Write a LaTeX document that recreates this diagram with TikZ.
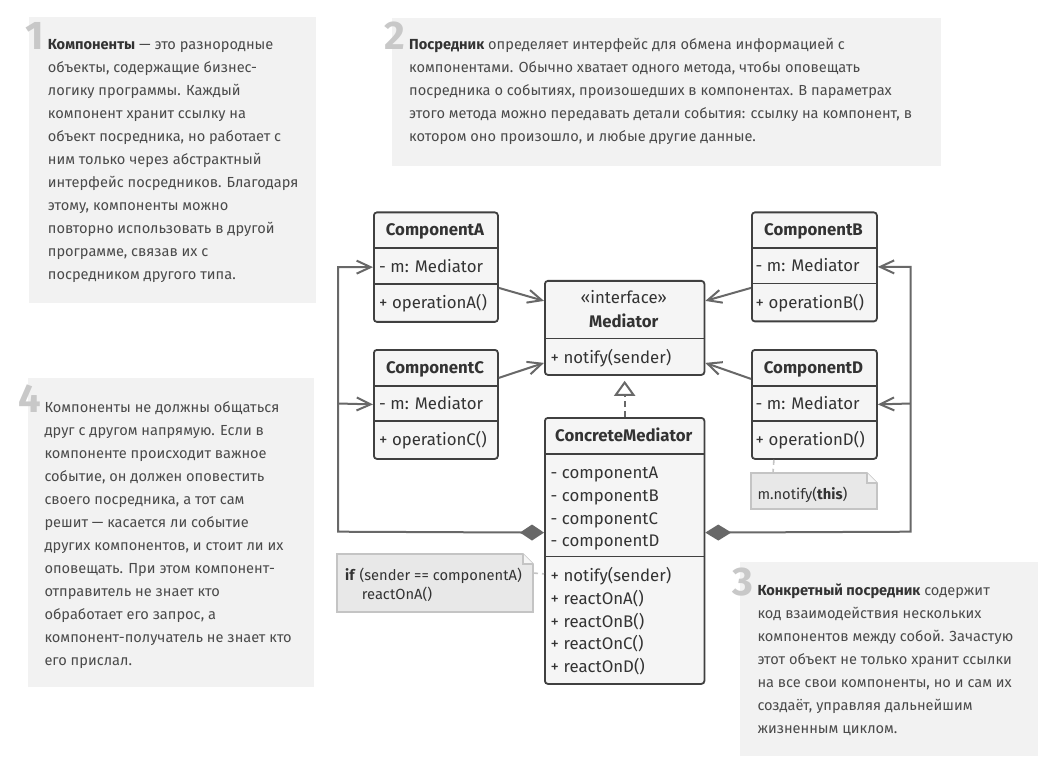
\documentclass[tikz,border=0pt]{standalone}
\usepackage{fontspec}
\setmainfont{Fira Sans}
\usetikzlibrary{arrows.meta}

\definecolor{panelgray}{HTML}{F2F2F2}
\definecolor{numgray}{HTML}{C8C8C8}
\definecolor{bodytext}{HTML}{4A4A4A}
\definecolor{umlline}{HTML}{404040}
\definecolor{umlfill}{HTML}{F5F5F5}
\definecolor{umltext}{HTML}{333333}
\definecolor{wirecol}{HTML}{686868}
\definecolor{notefill}{HTML}{E8E8E8}
\definecolor{noteline}{HTML}{C4C4C4}

\tikzset{
  panel/.style={fill=panelgray, draw=none, inner sep=0pt, outer sep=0pt, anchor=north west},
  para/.style={inner sep=0pt, anchor=base west, text=bodytext},
  bignum/.style={inner sep=0pt, anchor=base east, text=numgray, font=\fontsize{40}{40}\selectfont\bfseries},
  classbox/.style={draw=umlline, fill=umlfill, line width=1.8pt, rounded corners=3pt,
    inner sep=0pt, anchor=north west},
  divider/.style={draw=umlline, line width=1.8pt},
  member/.style={inner sep=0pt, anchor=base west, text=umltext, font=\fontsize{16.8}{18}\selectfont},
  classname/.style={inner sep=0pt, anchor=base, text=umltext, font=\fontsize{16.8}{18}\selectfont\bfseries},
  stereo/.style={inner sep=0pt, anchor=base, text=umltext, font=\fontsize{16.8}{18}\selectfont},
  wire/.style={draw=wirecol, line width=2pt},
  barb/.style={-{Straight Barb[length=14pt,width=13pt]}},
  notebox/.style={inner sep=0pt, outer sep=0pt, anchor=north west},
  noteshape/.style={draw=noteline, fill=notefill, line width=1.6pt, line join=miter},
  notetext/.style={inner sep=0pt, anchor=base west, text=umltext, font=\fontsize{14.7}{19}\selectfont},
  notelink/.style={draw=noteline, line width=1.6pt, dash pattern=on 5pt off 4pt},
}

% folded-corner note drawn around an empty node
\newcommand\drawnotebox[1]{%
  \path[noteshape] (#1.north west) -- ([xshift=-10pt]#1.north east)
    -- ([yshift=-10pt]#1.north east) -- (#1.south east) -- (#1.south west) -- cycle;
  \path[noteshape, fill=white!60!notefill] ([xshift=-10pt]#1.north east)
    -- ([xshift=-10pt,yshift=-10pt]#1.north east) -- ([yshift=-10pt]#1.north east);
}
\newcommand\bodysize{\fontsize{14.6}{23}\selectfont}

\begin{document}
\begin{tikzpicture}[x=1pt,y=-1pt]
\useasboundingbox (0,0) rectangle (1061,770);
\fill[white] (0,0) rectangle (1061,770);

% ---------- explanatory panels ----------
\node[panel, minimum width=286.7pt, minimum height=286pt] (panelOne) at (29.3,17.3) {};
\node[panel, minimum width=549pt, minimum height=148pt] (panelTwo) at (392,18) {};
\node[panel, minimum width=285.7pt, minimum height=308.4pt] (panelFour) at (28.3,378.3) {};
\node[panel, minimum width=298pt, minimum height=194pt] (panelThree) at (740,562) {};

\node[bignum] (numOne) at (44,50) {1};
\node[para] (textOne) at (47.7,50) {\parbox[t]{268pt}{\raggedright\bodysize
\textbf{\color{umltext}Компоненты} — это разнородные\\
объекты, содержащие бизнес-\\
логику программы. Каждый\\
компонент хранит ссылку на\\
объект посредника, но работает с\\
ним только через абстрактный\\
интерфейс посредников. Благодаря\\
этому, компоненты можно\\
повторно использовать в другой\\
программе, связав их с\\
посредником другого типа.}};

\node[bignum] (numTwo) at (405.5,50) {2};
\node[para] (textTwo) at (409,50) {\parbox[t]{530pt}{\raggedright\bodysize
\textbf{\color{umltext}Посредник} определяет интерфейс для обмена информацией с\\
компонентами. Обычно хватает одного метода, чтобы оповещать\\
посредника о событиях, произошедших в компонентах. В параметрах\\
этого метода можно передавать детали события: ссылку на компонент, в\\
котором оно произошло, и любые другие данные.}};

\node[bignum] (numFour) at (41,412.7) {4};
\node[para] (textFour) at (44.3,412.7) {\parbox[t]{268pt}{\raggedright\bodysize
Компоненты не должны общаться\\
друг с другом напрямую. Если в\\
компоненте происходит важное\\
событие, он должен оповестить\\
своего посредника, а тот сам\\
решит — касается ли событие\\
других компонентов, и стоит ли их\\
оповещать. При этом компонент-\\
отправитель не знает кто\\
обработает его запрос, а\\
компонент-получатель не знает кто\\
его прислал.}};

\node[bignum] (numThree) at (753.5,595) {3};
\node[para] (textThree) at (757.3,595) {\parbox[t]{278pt}{\raggedright\bodysize
\textbf{\color{umltext}Конкретный посредник} содержит\\
код взаимодействия нескольких\\
компонентов между собой. Зачастую\\
этот объект не только хранит ссылки\\
на все свои компоненты, но и сам их\\
создаёт, управляя дальнейшим\\
жизненным циклом.}};

% ---------- connector rails ----------
\coordinate (railLow) at (338,531.7);
\coordinate (railLeftC) at (338,403.5);
\coordinate (railHigh) at (910.7,531.7);
\coordinate (railRightD) at (910.7,403.5);

% ---------- classes ----------
\node[classbox, minimum width=124pt, minimum height=109.5pt] (compA) at (373,211.5) {};
\draw[divider] (373,248) -- (497,248) (373,284) -- (497,284);
\node[classname] (compAName) at (435,235.8) {ComponentA};
\node[member] (compAAttr) at (379,272.3) {- m: Mediator};
\node[member] (compAOp) at (379,308.5) {+ operationA()};

\node[classbox, minimum width=124pt, minimum height=109pt] (compC) at (373,349) {};
\draw[divider] (373,385.7) -- (497,385.7) (373,421) -- (497,421);
\node[classname] (compCName) at (435,373.3) {ComponentC};
\node[member] (compCAttr) at (379,409.3) {- m: Mediator};
\node[member] (compCOp) at (379,445.5) {+ operationC()};

\node[classbox, minimum width=125pt, minimum height=109pt] (compB) at (751,211.5) {};
\draw[divider] (751,248) -- (876,248) (751,283.5) -- (876,283.5);
\node[classname] (compBName) at (813.5,235.8) {ComponentB};
\node[member] (compBAttr) at (755.5,272) {- m: Mediator};
\node[member] (compBOp) at (755.5,308.3) {+ operationB()};

\node[classbox, minimum width=125pt, minimum height=109pt] (compD) at (751,349) {};
\draw[divider] (751,385.7) -- (876,385.7) (751,421) -- (876,421);
\node[classname] (compDName) at (813.5,373.3) {ComponentD};
\node[member] (compDAttr) at (755.5,409.3) {- m: Mediator};
\node[member] (compDOp) at (755.5,445.5) {+ operationD()};

\node[classbox, minimum width=159.5pt, minimum height=94pt] (mediator) at (544,280) {};
\draw[divider] (544,338.5) -- (703.5,338.5);
\node[stereo] (medStereo) at (623.75,303.3) {«interface»};
\node[classname] (medName) at (623.75,327.7) {Mediator};
\node[member] (medOp) at (550.5,363.3) {+ notify(sender)};

\node[classbox, minimum width=159.5pt, minimum height=266pt] (concrete) at (544,417) {};
\draw[divider] (544,454) -- (703.5,454) (544,556.5) -- (703.5,556.5);
\node[classname] (concName) at (623.75,441.7) {ConcreteMediator};
\node[member] (concF1) at (550.5,478.5) {- componentA};
\node[member] (concF2) at (550.5,501.2) {- componentB};
\node[member] (concF3) at (550.5,524) {- componentC};
\node[member] (concF4) at (550.5,546.8) {- componentD};
\node[member] (concM1) at (550.5,581.7) {+ notify(sender)};
\node[member] (concM2) at (550.5,604.3) {+ reactOnA()};
\node[member] (concM3) at (550.5,627) {+ reactOnB()};
\node[member] (concM4) at (550.5,649.7) {+ reactOnC()};
\node[member] (concM5) at (550.5,672.3) {+ reactOnD()};

% ---------- associations to the mediator interface ----------
\draw[wire, barb] ([yshift=-20.75pt]compA.east) -- ([yshift=27pt]mediator.west);
\draw[wire, barb] ([yshift=26.5pt]compC.east) -- ([yshift=-35pt]mediator.west);
\draw[wire, barb] ([yshift=-21pt]compB.west) -- ([yshift=27pt]mediator.east);
\draw[wire, barb] ([yshift=25.5pt]compD.west) -- ([yshift=-35pt]mediator.east);

% ---------- realization ----------
\draw[wire, dash pattern=on 6pt off 4pt, shorten >=5pt,
  -{Triangle[open, length=15pt, width=21pt]}] (concrete.north) -- (mediator.south);

% ---------- compositions ----------
\draw[wire, {Diamond[length=24pt,width=16pt]}-{Straight Barb[length=14pt,width=13pt]}]
  ([yshift=18.3pt]concrete.west) -- (railLow) |- (compA.west);
\draw[wire, barb] (railLeftC) -- (compC.west);
\draw[wire, {Diamond[length=26pt,width=16pt]}-{Straight Barb[length=14pt,width=13pt]}]
  ([yshift=18.3pt]concrete.east) -- (railHigh) |- (compB.east);
\draw[wire, barb] (railRightD) -- (compD.east);

% ---------- notes ----------
\node[notebox, minimum width=196pt, minimum height=58pt] (noteIf) at (337,554) {};
\drawnotebox{noteIf}
\node[notetext] (noteIfLineA) at (345,580) {\textbf{if} (sender == componentA)};
\node[notetext] (noteIfLineB) at (361.7,599.3) {reactOnA()};
\draw[notelink] ([yshift=10pt]noteIf.east) -- ([yshift=-23pt]concrete.west);

\node[notebox, minimum width=126pt, minimum height=36pt] (noteNotify) at (751,473) {};
\drawnotebox{noteNotify}
\node[notetext] (noteNotifyLine) at (757.3,499.5) {m.notify(\textbf{this})};
\draw[notelink] ([xshift=-40.5pt]compD.south) -- ([xshift=-41pt]noteNotify.north);

\end{tikzpicture}
\end{document}
